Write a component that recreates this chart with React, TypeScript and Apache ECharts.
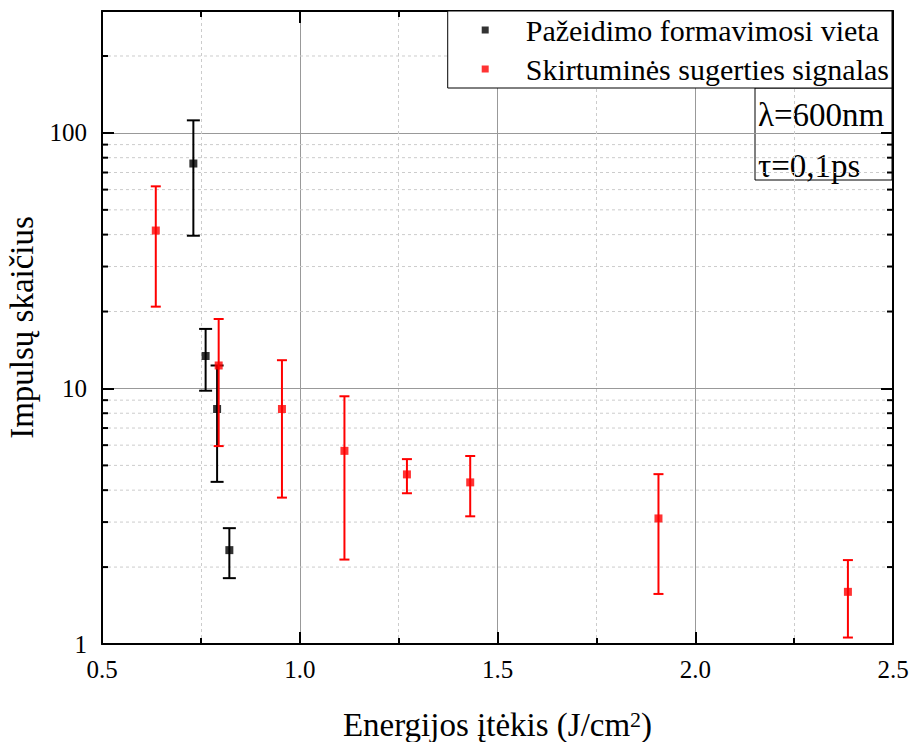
import React, { useEffect, useRef } from "react";
import * as echarts from "echarts";

// ---- data ----
const damageName = "Pažeidimo formavimosi vieta";
const damageX = [0.731, 0.762, 0.791, 0.822];
const damageY = [75.9, 13.4, 8.31, 2.33];
const damageLow = [39.6, 9.8, 4.31, 1.81];
const damageHigh = [112, 17.1, 12.3, 2.84];

const signalName = "Skirtuminės sugerties signalas";
const signalX = [0.636, 0.795, 0.955, 1.113, 1.271, 1.431, 1.907, 2.386];
const signalY = [41.5, 12.3, 8.31, 5.7, 4.61, 4.29, 3.1, 1.6];
const signalLow = [20.9, 5.95, 3.74, 2.14, 3.89, 3.16, 1.57, 1.06];
const signalHigh = [61.8, 18.7, 12.9, 9.32, 5.29, 5.44, 4.62, 2.13];

const yMinorTicks = [2, 3, 4, 5, 6, 7, 8, 9, 20, 30, 40, 50, 60, 70, 80, 90, 200];
const annotationLines = ["λ=600nm", "τ=0,1ps"];

const FONT = "Liberation Serif";

function errorSeries(name: string, xs: number[], lo: number[], hi: number[], color: string, capHalf: number, z: number) {
  return {
    name,
    type: "custom",
    coordinateSystem: "cartesian2d",
    xAxisIndex: 0,
    yAxisIndex: 0,
    z,
    silent: true,
    encode: { x: 0, y: [1, 2] },
    data: xs.map((x, i) => [x, lo[i], hi[i]]),
    renderItem: (_params: any, api: any) => {
      const p1 = api.coord([api.value(0), api.value(1)]);
      const p2 = api.coord([api.value(0), api.value(2)]);
      const style = { stroke: color, lineWidth: 2 };
      return {
        type: "group",
        children: [
          { type: "line", shape: { x1: p1[0], y1: p1[1], x2: p2[0], y2: p2[1] }, style },
          { type: "line", shape: { x1: p1[0] - capHalf, y1: p1[1], x2: p1[0] + capHalf, y2: p1[1] }, style },
          { type: "line", shape: { x1: p2[0] - capHalf, y1: p2[1], x2: p2[0] + capHalf, y2: p2[1] }, style },
        ],
      };
    },
  };
}

export default function App() {
  const ref = useRef<HTMLDivElement>(null);
  useEffect(() => {
    if (!ref.current) return;
    const chart = echarts.init(ref.current, undefined, { renderer: "svg" });
    const axisLineStyle = { color: "#000", width: 2 };
    const isPow10 = (v: number) => Math.abs(Math.log10(v) - Math.round(Math.log10(v))) < 1e-6;
    const option: any = {
      animation: false,
      backgroundColor: "#fff",
      textStyle: { fontFamily: FONT, color: "#000" },
      grid: { left: 102, right: 19, top: 11, bottom: 98, containLabel: false, outerBoundsMode: "none" },
      legend: {
        data: [damageName, signalName],
        orient: "vertical",
        right: 20,
        top: 11,
        icon: "path://M0,0h7v7h-7z",
        itemWidth: 71,
        itemHeight: 7,
        itemGap: 9,
        padding: [4, 3, 4, 34],
        backgroundColor: "#fff",
        borderColor: "#000",
        borderWidth: 1,
        borderRadius: 0,
        z: 8,
        textStyle: { fontFamily: FONT, fontSize: 30, color: "#000", lineHeight: 30 },
      },
      xAxis: [
        {
          type: "value",
          min: 0.5,
          max: 2.5,
          interval: 0.5,
          position: "bottom",
          axisLine: { onZero: false, lineStyle: axisLineStyle },
          axisTick: { inside: true, length: 12, lineStyle: axisLineStyle },
          minorTick: { show: true, splitNumber: 2, length: 6, lineStyle: axisLineStyle },
          splitLine: { show: true, lineStyle: { color: "#999", width: 1 } },
          minorSplitLine: { show: true, lineStyle: { color: "#ccc", width: 1, type: [3, 3] } },
          axisLabel: {
            formatter: (v: number) => v.toFixed(1),
            fontFamily: FONT,
            fontSize: 25,
            color: "#000",
            margin: 13,
          },
          name: "Energijos įtėkis (J/cm{sup|2})",
          nameLocation: "middle",
          nameGap: 64,
          nameTextStyle: {
            fontFamily: FONT,
            fontSize: 33,
            color: "#000",
            lineHeight: 34,
            rich: {
              sup: { fontFamily: FONT, fontSize: 22, color: "#000", verticalAlign: "top", lineHeight: 14 },
            },
          },
        },
        {
          type: "value",
          min: 0.5,
          max: 2.5,
          interval: 0.5,
          position: "top",
          axisLine: { onZero: false, lineStyle: axisLineStyle },
          axisTick: { inside: true, length: 12, lineStyle: axisLineStyle },
          minorTick: { show: true, splitNumber: 2, length: 6, lineStyle: axisLineStyle },
          splitLine: { show: false },
          axisLabel: { show: false },
        },
      ],
      yAxis: [
        {
          type: "log",
          logBase: 10,
          min: 1,
          max: 300,
          position: "left",
          axisLine: { onZero: false, lineStyle: axisLineStyle },
          axisTick: { inside: true, length: 12, lineStyle: axisLineStyle },
          splitLine: { show: true, lineStyle: { color: "#999", width: 1 } },
          axisLabel: {
            formatter: (v: number) => (isPow10(v) ? String(Math.round(v)) : ""),
            fontFamily: FONT,
            fontSize: 25,
            color: "#000",
            margin: 15,
          },
          name: "Impulsų skaičius",
          nameLocation: "middle",
          nameGap: 63,
          nameTextStyle: { fontFamily: FONT, fontSize: 33, color: "#000" },
        },
        {
          type: "log",
          logBase: 10,
          min: 1,
          max: 300,
          position: "right",
          axisLine: { onZero: false, lineStyle: axisLineStyle },
          axisTick: { inside: true, length: 12, lineStyle: axisLineStyle },
          splitLine: { show: false },
          axisLabel: { show: false },
        },
      ],
      series: [
        {
          name: "minorGrid",
          type: "custom",
          coordinateSystem: "cartesian2d",
          xAxisIndex: 0,
          yAxisIndex: 0,
          z: 1,
          silent: true,
          data: yMinorTicks.map((v) => [0.5, v]),
          renderItem: (params: any, api: any) => {
            const y = api.coord([api.value(0), api.value(1)])[1];
            const cs = params.coordSys;
            return {
              type: "group",
              children: [
                {
                  type: "line",
                  shape: { x1: cs.x, y1: y, x2: cs.x + cs.width, y2: y },
                  style: { stroke: "#ccc", lineWidth: 1, lineDash: [3, 3] },
                },
                { type: "line", shape: { x1: cs.x, y1: y, x2: cs.x + 6, y2: y }, style: { stroke: "#000", lineWidth: 2 } },
                {
                  type: "line",
                  shape: { x1: cs.x + cs.width - 6, y1: y, x2: cs.x + cs.width, y2: y },
                  style: { stroke: "#000", lineWidth: 2 },
                },
              ],
            };
          },
        },
        errorSeries("damageErr", damageX, damageLow, damageHigh, "#000", 6.5, 3),
        {
          name: damageName,
          type: "scatter",
          symbol: "rect",
          symbolSize: 8,
          z: 4,
          itemStyle: { color: "#000" },
          data: damageX.map((x, i) => [x, damageY[i]]),
        },
        errorSeries("signalErr", signalX, signalLow, signalHigh, "#ff0000", 5, 5),
        {
          name: signalName,
          type: "scatter",
          symbol: "rect",
          symbolSize: 8,
          z: 6,
          itemStyle: { color: "#ff0000" },
          data: signalX.map((x, i) => [x, signalY[i]]),
        },
      ],
      graphic: [
        {
          type: "group",
          z: 10,
          children: [
            {
              type: "rect",
              shape: { x: 755, y: 88, width: 137, height: 92 },
              style: { fill: "#fff", stroke: "#000", lineWidth: 1 },
            },
            {
              type: "text",
              x: 758,
              y: 115,
              style: { text: annotationLines[0], font: `33px "${FONT}"`, fill: "#000", verticalAlign: "middle" },
            },
            {
              type: "text",
              x: 758,
              y: 166,
              style: { text: annotationLines[1], font: `33px "${FONT}"`, fill: "#000", verticalAlign: "middle" },
            },
          ],
        },
      ],
    };
    chart.setOption(option);
    return () => chart.dispose();
  }, []);
  return <div ref={ref} style={{ position: "fixed", left: 0, top: 0, width: 912, height: 742 }} />;
}
